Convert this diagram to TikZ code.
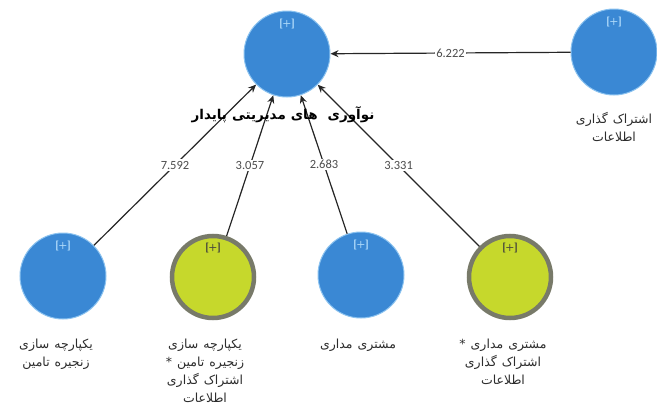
\documentclass[tikz,border=0pt]{standalone}
\usepackage{fontspec}
\usetikzlibrary{arrows.meta}
\TeXXeTstate=1
\newfontfamily\arabicfont[Script=Arabic]{DejaVu Sans}
\newfontfamily\numfont{Carlito}
\newcommand\rw[1]{\beginR#1\endR}
\newcommand\wg{\hspace{5pt}}
\definecolor{pblue}{RGB}{58,136,212}
\definecolor{pedge}{RGB}{140,195,240}
\definecolor{pgreen}{RGB}{198,216,44}
\definecolor{pgray}{RGB}{120,122,105}
\definecolor{ptext}{RGB}{45,45,45}
\definecolor{pplusb}{RGB}{175,218,250}
\definecolor{pplusg}{RGB}{70,70,60}
\begin{document}
\begin{tikzpicture}[x=1pt,y=-1pt,
  bluec/.style={circle,fill=pblue,draw=pedge,line width=1pt,minimum size=86pt,inner sep=0pt},
  greenc/.style={circle,fill=pgreen,draw=pgray,line width=4.5pt,minimum size=82pt,inner sep=0pt},
  plusb/.style={text=pplusb,font=\sffamily\bfseries\fontsize{10}{11}\selectfont,inner sep=0pt},
  plusg/.style={text=pplusg,font=\sffamily\bfseries\fontsize{10}{11}\selectfont,inner sep=0pt},
  lab/.style={text=ptext,font=\arabicfont\fontsize{12.5}{18}\selectfont,align=center,inner sep=0pt},
  mainlab/.style={text=black,font=\arabicfont\bfseries\fontsize{13.5}{15}\selectfont,inner sep=0pt},
  arr/.style={draw=black!85,line width=1.2pt,-{Stealth[length=8pt,width=7pt]}},
  num/.style={fill=white,inner sep=1.5pt,text=black!70,font=\numfont\fontsize{12.5}{14}\selectfont}]
\fill[white] (0,0) rectangle (657,407);
\useasboundingbox (0,0) rectangle (657,407);
% constructs
\node[bluec] (main) at (287,54) {};
\node[bluec] (info) at (614,52) {};
\node[bluec] (b1) at (63,276) {};
\node[greenc] (b2) at (213,277) {};
\node[bluec] (b3) at (361,275) {};
\node[greenc] (b4) at (510,277) {};
% [+] markers
\node[plusb] (mainp) at (287,24) {[+]};
\node[plusb] (infop) at (614,22) {[+]};
\node[plusb] (b1p) at (63,246) {[+]};
\node[plusg] (b2p) at (213,248) {[+]};
\node[plusb] (b3p) at (361,245) {[+]};
\node[plusg] (b4p) at (510,248) {[+]};
% paths
\draw[arr] (info) -- node[num] (n0) {6.222} (main);
\draw[arr] (b1) -- node[num] (n1) {7.592} (main);
\draw[arr] (b2) -- node[num] (n2) {3.057} (main);
\draw[arr] (b3) -- node[num] (n3) {2.683} (main);
\draw[arr] (b4) -- node[num] (n4) {3.331} (main);
% labels (word order as printed in the reference)
\node[mainlab] (mainl) at (283,115) {\rw{پایدار}\wg\rw{مدیریتی}\wg\rw{های}\wg\wg\rw{نوآوری}};
\node[lab,anchor=north] (infol) at (614,112) {\rw{گذاری}\wg\rw{اشتراک}\\\rw{اطلاعات}};
\node[lab,anchor=north] (b1l) at (56,339) {\rw{سازی}\wg\rw{یکپارچه}\\\rw{تامین}\wg\rw{زنجیره}};
\node[lab,anchor=north] (b2l) at (205,339) {\rw{سازی}\wg\rw{یکپارچه}\\\rw{*}\wg\rw{تامین}\wg\rw{زنجیره}\\\rw{گذاری}\wg\rw{اشتراک}\\\rw{اطلاعات}};
\node[lab,anchor=north] (b3l) at (358,339) {\rw{مداری}\wg\rw{مشتری}};
\node[lab,anchor=north] (b4l) at (503,339) {\rw{*}\wg\rw{مداری}\wg\rw{مشتری}\\\rw{گذاری}\wg\rw{اشتراک}\\\rw{اطلاعات}};
\end{tikzpicture}
\end{document}
